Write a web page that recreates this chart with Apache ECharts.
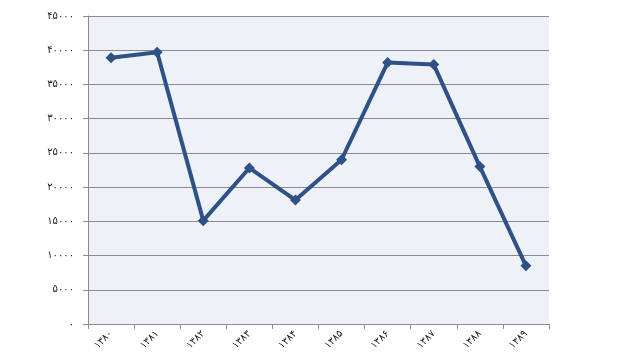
<!DOCTYPE html>
<html>
<head>
<meta charset="utf-8">
<script src="https://cdn.jsdelivr.net/npm/echarts@6/dist/echarts.min.js"></script>
<style>html,body{margin:0;padding:0;background:#fff}#c{width:640px;height:360px}</style>
</head>
<body>
<div id="c"></div>
<script>
const categories = ['۱۳۸۰','۱۳۸۱','۱۳۸۲','۱۳۸۳','۱۳۸۴','۱۳۸۵','۱۳۸۶','۱۳۸۷','۱۳۸۸','۱۳۸۹'];
const values = [38900, 39700, 15100, 22800, 18100, 24000, 38200, 37900, 23000, 8500];
const yMin = 0, yMax = 45000, yStep = 5000;

const toPersian = s => String(s).replace(/[0-9]/g, d => '۰۱۲۳۴۵۶۷۸۹'[d]);

const chart = echarts.init(document.getElementById('c'), null, {renderer: 'canvas'});
chart.setOption({
  animation: false,
  backgroundColor: '#ffffff',
  grid: {left: 88, right: 91, top: 16, bottom: 36, show: true, backgroundColor: '#EEF1F7', borderWidth: 0},
  xAxis: {
    type: 'category',
    data: categories,
    boundaryGap: true,
    axisLine: {show: true, lineStyle: {color: '#8C8C8C', width: 1}},
    axisTick: {show: true, length: 5, alignWithLabel: false, lineStyle: {color: '#8C8C8C'}},
    axisLabel: {rotate: 45, color: '#222', fontFamily: 'DejaVu Sans', fontSize: 10, margin: 8}
  },
  yAxis: {
    type: 'value',
    min: yMin, max: yMax, interval: yStep,
    axisLine: {show: true, lineStyle: {color: '#8C8C8C', width: 1}},
    axisTick: {show: true, length: 5, lineStyle: {color: '#8C8C8C'}},
    splitLine: {show: true, lineStyle: {color: '#8C8C8C', width: 1}},
    axisLabel: {color: '#222', fontFamily: 'DejaVu Sans', fontSize: 10, margin: 14, formatter: v => toPersian(v)}
  },
  series: [{
    type: 'line',
    data: values,
    symbol: 'diamond',
    symbolSize: 11,
    lineStyle: {color: '#2E5286', width: 4},
    itemStyle: {color: '#2E5286'}
  }]
});
</script>
</body>
</html>
